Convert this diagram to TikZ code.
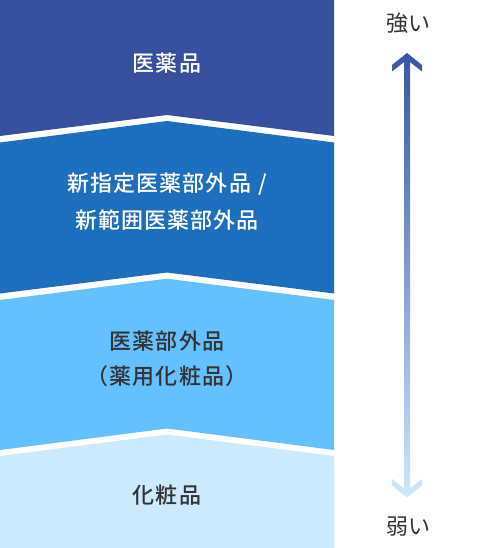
\documentclass[tikz,border=0pt]{standalone}
\usepackage{fontspec}
\newfontfamily\jp[LetterSpace=5,BoldFont={Noto Sans CJK JP Medium}]{Noto Sans CJK JP}
\newfontfamily\jpr{Noto Sans CJK JP}
\definecolor{bandA}{HTML}{37509E}
\definecolor{bandB}{HTML}{1E6EBE}
\definecolor{bandC}{HTML}{64C0FE}
\definecolor{bandD}{HTML}{CCEAFE}
\definecolor{txtdark}{HTML}{333333}
\definecolor{arrtop}{HTML}{3A55A5}
\definecolor{arrbot}{HTML}{CFE8FA}
\tikzset{
  bandlabel/.style={align=center, inner sep=0pt, font=\jp\bfseries\fontsize{22}{37}\selectfont},
  sidelabel/.style={inner sep=0pt, text=txtdark, font=\jpr\fontsize{22}{24}\selectfont}
}
\begin{document}
\begin{tikzpicture}[x=1pt,y=-1pt]
\useasboundingbox (0,0) rectangle (482,548);
\fill[white] (0,0) rectangle (482,548);
% bands
\fill[bandA] (0,0) -- (334,0) -- (334,136) -- (167,115) -- (0,136) -- cycle;
\fill[bandB] (0,142.5) -- (167,121) -- (334,142.5) -- (334,293.5) -- (167,272.5) -- (0,293.5) -- cycle;
\fill[bandC] (0,300) -- (167,278.7) -- (334,300) -- (334,450) -- (167,428.5) -- (0,450) -- cycle;
\fill[bandD] (0,456) -- (167,434.5) -- (334,456) -- (334,548) -- (0,548) -- cycle;
% labels
\node[bandlabel, text=white] (iyaku) at (167,63) {医薬品};
\node[bandlabel, text=white] (shin) at (167,202) {新指定医薬部外品\hspace{7pt}/\\新範囲医薬部外品};
\node[bandlabel, text=txtdark, font=\jp\bfseries\fontsize{22}{35}\selectfont] (bugai) at (167,359) {医薬部外品\\（薬用化粧品）};
\node[bandlabel, text=txtdark] (kesho) at (167,495) {化粧品};
% arrow
\shade[top color=arrtop, bottom color=arrbot]
  (407,53) -- (422,65) -- (422,71.5) -- (410,62.1) -- (410,488.4) -- (422,479) -- (422,485.5) -- (407,497.5)
  -- (392,485.5) -- (392,479) -- (404,488.4) -- (404,62.1) -- (392,71.5) -- (392,65) -- cycle;
\node[sidelabel] (strong) at (408,23) {強い};
\node[sidelabel] (weak) at (408,527) {弱い};
\end{tikzpicture}
\end{document}
